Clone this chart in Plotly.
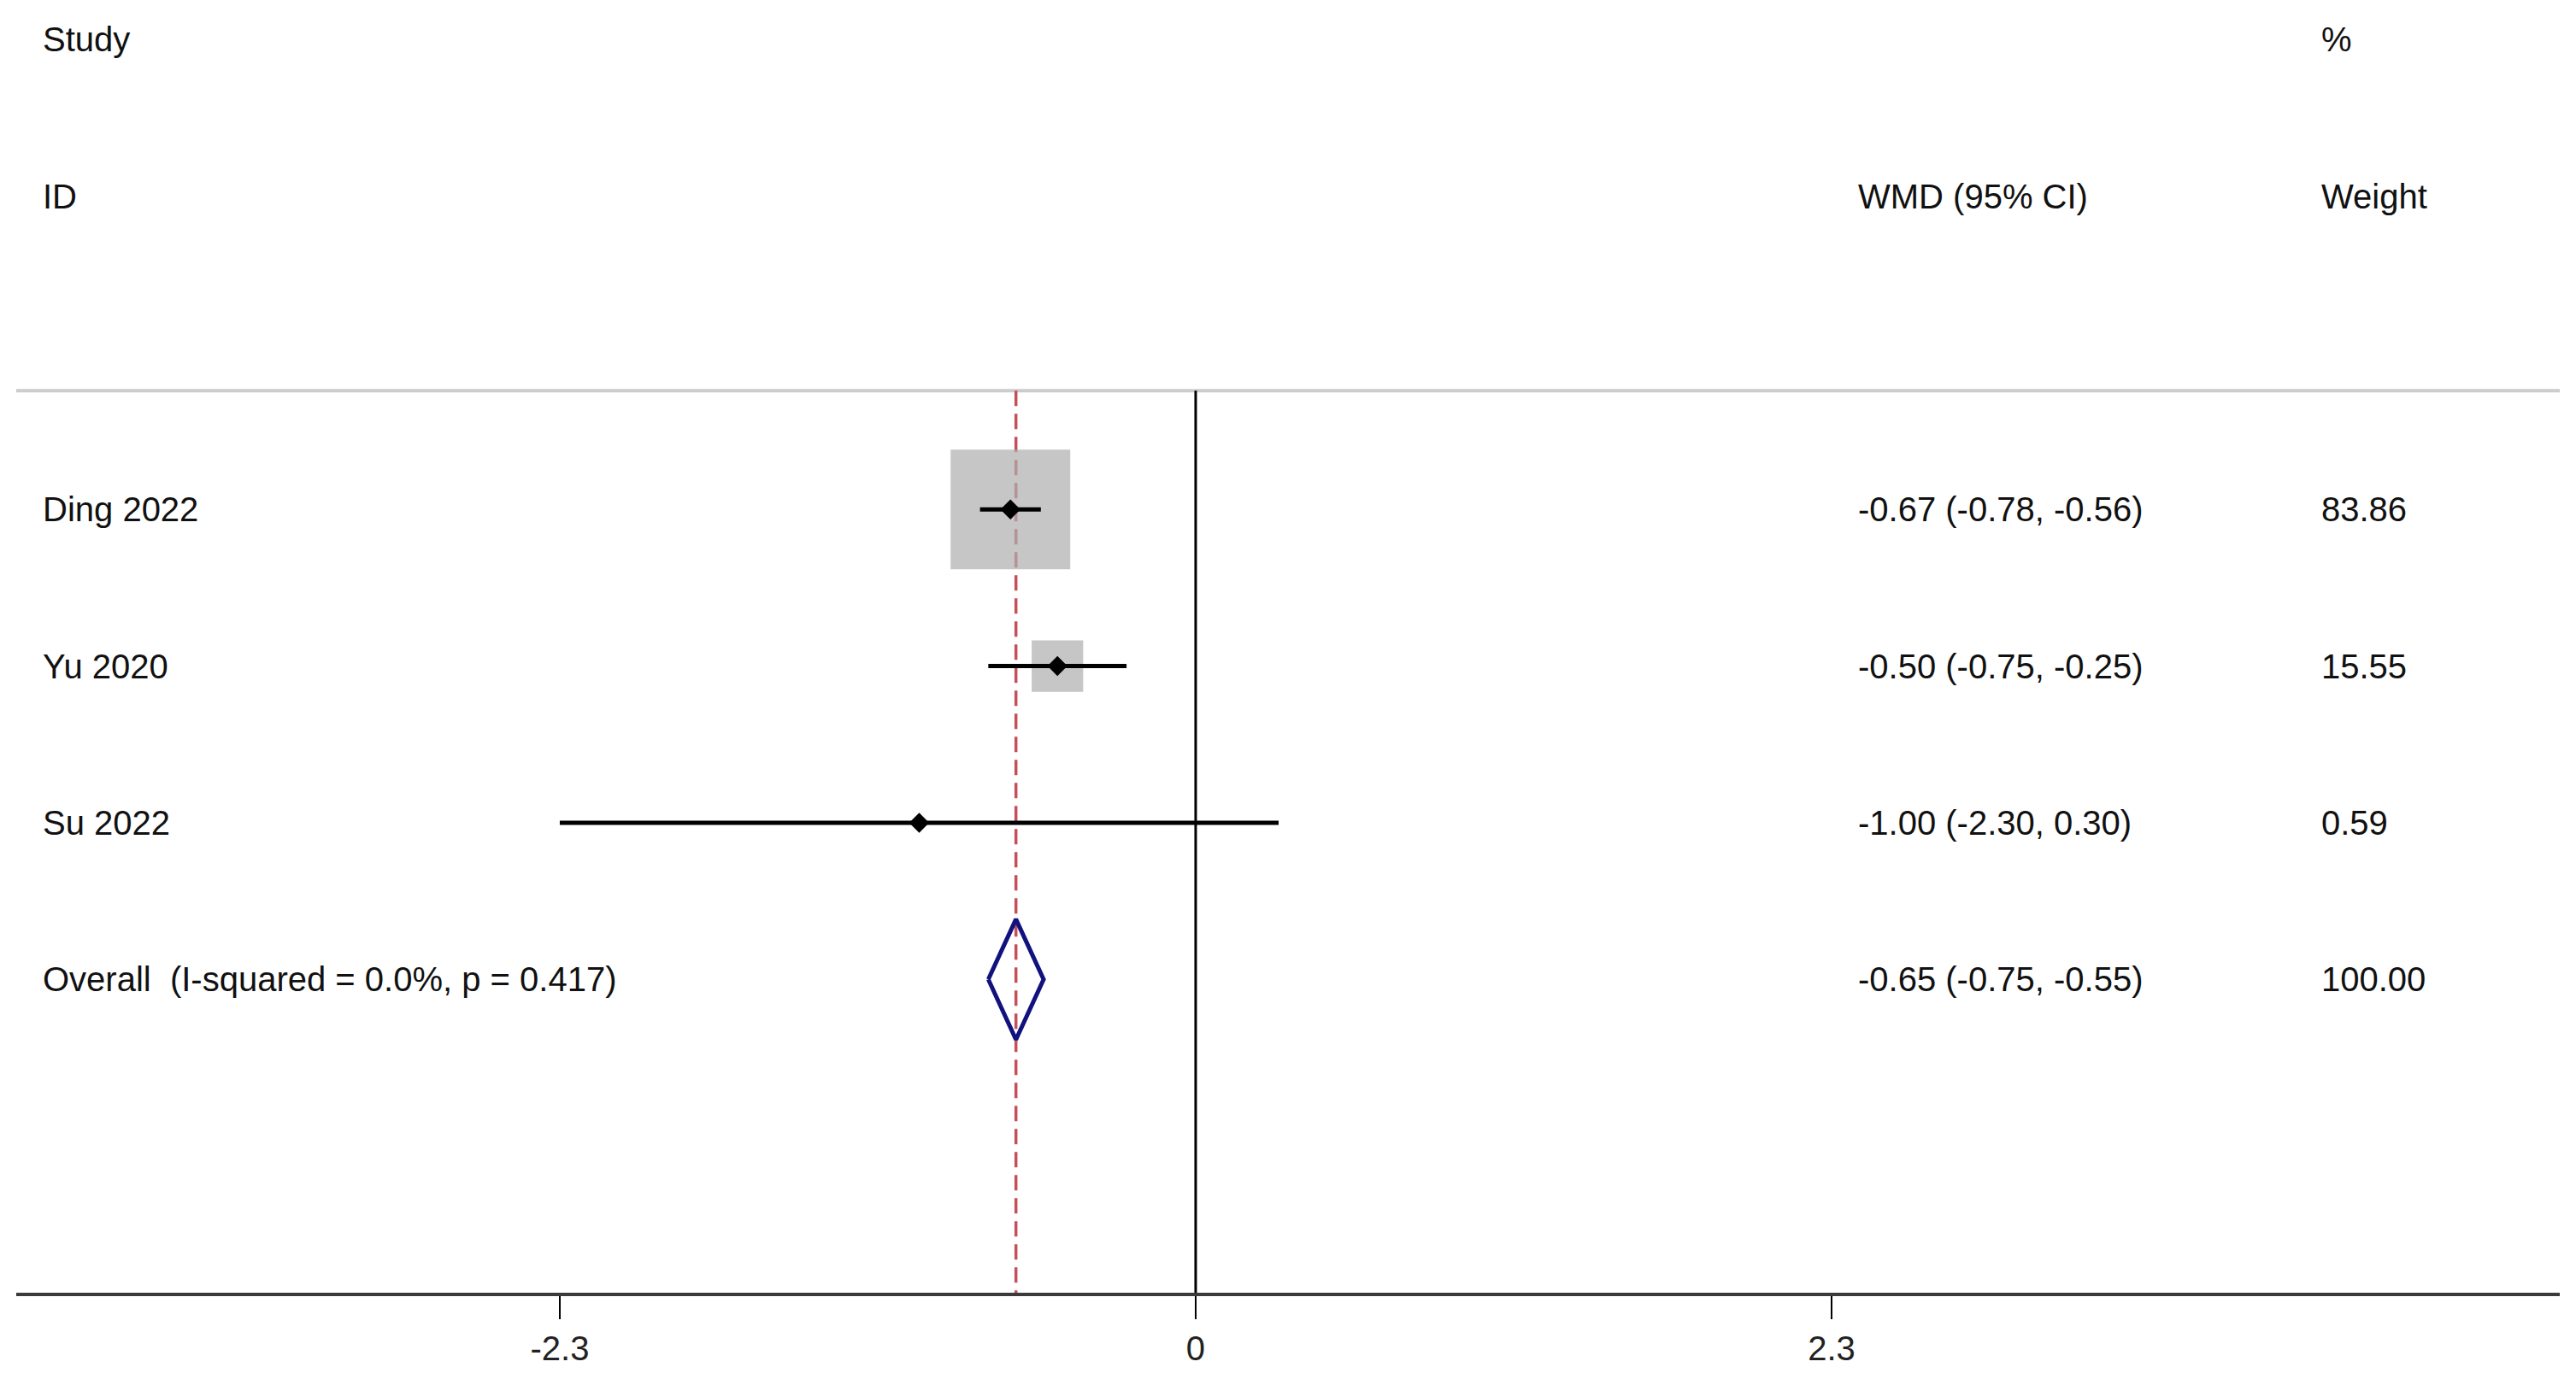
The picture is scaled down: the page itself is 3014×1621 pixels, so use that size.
import plotly.graph_objects as go

# ---------------- data ----------------
studies = ["Ding 2022", "Yu 2020", "Su 2022"]
wmd = [-0.67, -0.50, -1.00]
ci_low = [-0.78, -0.75, -2.30]
ci_high = [-0.56, -0.25, 0.30]
weights = [83.86, 15.55, 0.59]

overall_label = "Overall\u00a0\u00a0(I-squared = 0.0%, p = 0.417)"
overall_wmd = -0.65
overall_low = -0.75
overall_high = -0.55
overall_weight = 100.00

tick_vals = [-2.3, 0, 2.3]
tick_text = ["-2.3", "0", "2.3"]

header_left = ["Study", "ID"]
header_ci = "WMD (95% CI)"
header_w = ["%", "Weight"]

# ---------------- layout constants ----------------
# page body has an 8px margin; the figure is sized so it fits the window
W, H = 2998, 1605
FONT = "Liberation Sans, Arial, sans-serif"
FS = 40
TXT = "#111111"
X_RANGE = [-4.266, 4.934]
Y_RANGE = [6.0, -2.208]           # reversed rows
TOP_RULE = 0.242
COL_LEFT = -4.176
COL_CI = 2.389
COL_W = 4.065
BOX_MAX = 140
DIAMOND_H = 0.384

rows = list(range(1, len(studies) + 1))
overall_row = len(studies) + 1

fig = go.Figure()

# weight boxes
sizes = [BOX_MAX * (w / max(weights)) ** 0.5 for w in weights]
fig.add_trace(go.Scatter(
    x=wmd, y=rows, mode="markers",
    marker=dict(symbol="square", size=sizes, color="#aeaeae", line=dict(width=0)),
    hoverinfo="skip", showlegend=False))

# confidence intervals
for lo, hi, r in zip(ci_low, ci_high, rows):
    fig.add_trace(go.Scatter(
        x=[lo, hi], y=[r, r], mode="lines",
        line=dict(color="black", width=5),
        hoverinfo="skip", showlegend=False))

# point estimates
fig.add_trace(go.Scatter(
    x=wmd, y=rows, mode="markers",
    marker=dict(symbol="diamond", size=18, color="black"),
    hoverinfo="skip", showlegend=False))

# overall diamond
fig.add_trace(go.Scatter(
    x=[overall_low, overall_wmd, overall_high, overall_wmd, overall_low],
    y=[overall_row, overall_row - DIAMOND_H, overall_row,
       overall_row + DIAMOND_H, overall_row],
    mode="lines", line=dict(color="#12127e", width=5),
    hoverinfo="skip", showlegend=False))

# reference lines
fig.add_shape(type="line", xref="paper", yref="y", x0=0, x1=1,
              y0=TOP_RULE, y1=TOP_RULE, line=dict(color="#cccccc", width=4),
              layer="below")
fig.add_shape(type="line", xref="x", yref="y", x0=0, x1=0,
              y0=TOP_RULE, y1=Y_RANGE[0], line=dict(color="black", width=3),
              layer="below")
fig.add_shape(type="line", xref="x", yref="y", x0=overall_wmd, x1=overall_wmd,
              y0=TOP_RULE, y1=Y_RANGE[0],
              line=dict(color="#c4505c", width=3.5, dash="18px,9px"),
              layer="below")

# text annotations
def txt(x, y, s):
    fig.add_annotation(x=x, y=y, xref="x", yref="y", text=s, showarrow=False,
                       xanchor="left", yanchor="middle",
                       font=dict(family=FONT, size=FS, color=TXT))

txt(COL_LEFT, -2, header_left[0])
txt(COL_LEFT, -1, header_left[1])
txt(COL_CI, -1, header_ci)
txt(COL_W, -2, header_w[0])
txt(COL_W, -1, header_w[1])

for name, e, lo, hi, w, r in zip(studies, wmd, ci_low, ci_high, weights, rows):
    txt(COL_LEFT, r, name)
    txt(COL_CI, r, f"{e:.2f} ({lo:.2f}, {hi:.2f})")
    txt(COL_W, r, f"{w:.2f}")

txt(COL_LEFT, overall_row, overall_label)
txt(COL_CI, overall_row, f"{overall_wmd:.2f} ({overall_low:.2f}, {overall_high:.2f})")
txt(COL_W, overall_row, f"{overall_weight:.2f}")

fig.update_layout(
    width=W, height=H,
    margin=dict(l=11, r=11, t=0, b=100),
    paper_bgcolor="white", plot_bgcolor="white",
    showlegend=False,
    xaxis=dict(range=X_RANGE, showgrid=False, zeroline=False,
               showline=True, linecolor="#3a3a3a", linewidth=4,
               ticks="outside", ticklen=27, tickwidth=2, tickcolor="black",
               tickvals=tick_vals, ticktext=tick_text, ticklabelstandoff=0,
               tickfont=dict(family=FONT, size=40, color="#222222")),
    yaxis=dict(range=Y_RANGE, visible=False, showgrid=False, zeroline=False),
)

fig.write_html("out.html")
